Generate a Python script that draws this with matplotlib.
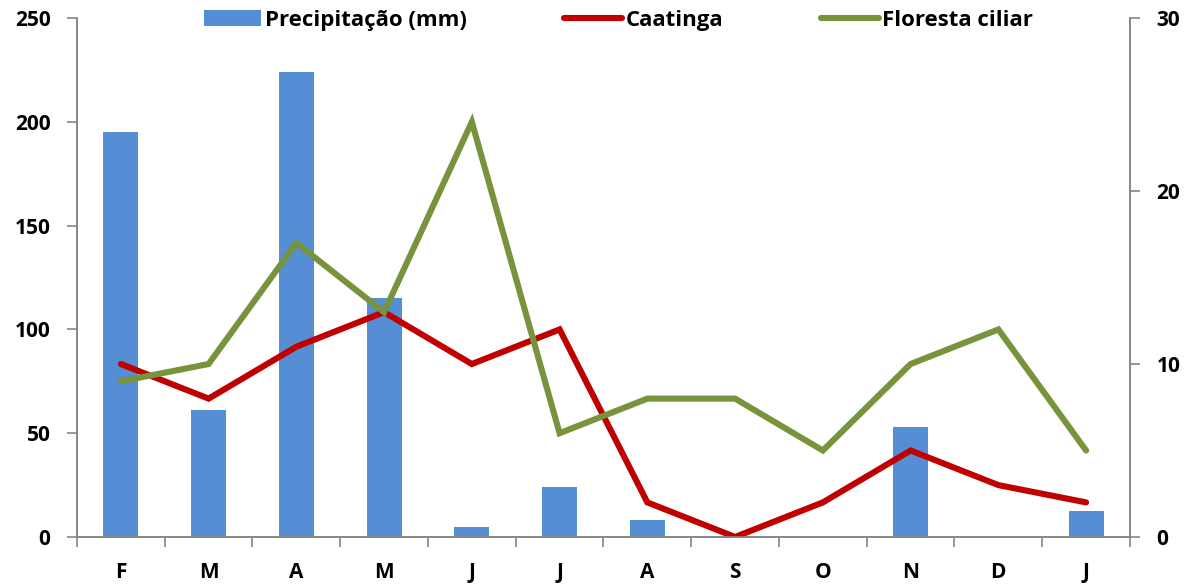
import matplotlib
matplotlib.use("Agg")
import matplotlib.pyplot as plt
import numpy as np

months = ["F", "M", "A", "M", "J", "J", "A", "S", "O", "N", "D", "J"]
precip = [195, 61, 224, 115, 5, 24, 8, 0, 0, 53, 0, 12.5]
caatinga = [10, 8, 11, 13, 10, 12, 2, 0, 2, 5, 3, 2]
floresta = [9, 10, 17, 13, 24, 6, 8, 8, 5, 10, 12, 5]

plt.rcParams['font.family'] = ['Open Sans', 'DejaVu Sans']
plt.rcParams['font.weight'] = 'bold'

fig = plt.figure(figsize=(11.95, 5.84), dpi=100)
ax = fig.add_axes([0.0644, 0.0805, 0.8812, 0.8885])
ax2 = ax.twinx()

x = np.arange(len(months))
b = ax.bar(x, precip, width=0.4, color="#558ED5", label="Precipitação (mm)", zorder=1)
l1, = ax2.plot(x, caatinga, color="#C00000", lw=4.4, label="Caatinga", solid_capstyle='round', solid_joinstyle='miter')
l2, = ax2.plot(x, floresta, color="#77933C", lw=4.4, label="Floresta ciliar", solid_capstyle='round', solid_joinstyle='miter')

ax.set_xlim(-0.5, 11.5)
ax.set_ylim(0, 250)
ax2.set_ylim(0, 30)
ax.set_yticks([0, 50, 100, 150, 200, 250])
ax2.set_yticks([0, 10, 20, 30])

ax.set_xticks(x)
ax.set_xticklabels(months)
ax.set_xticks(np.arange(-0.5, 12, 1), minor=True)
ax.tick_params(axis='x', which='major', length=0, pad=18, labelsize=15)
ax.tick_params(axis='x', which='minor', length=7, color="#868686", width=1.2)
ax.tick_params(axis='y', length=7, color="#868686", width=1.2, labelsize=15, pad=12)
ax2.tick_params(axis='y', length=7, color="#868686", width=1.2, labelsize=15, pad=12)

for a in (ax, ax2):
    a.spines['top'].set_visible(False)
    for s in ['left', 'right', 'bottom']:
        a.spines[s].set_color("#868686")
        a.spines[s].set_linewidth(1.2)
for lab in ax.get_xticklabels() + ax.get_yticklabels() + ax2.get_yticklabels():
    lab.set_fontweight('bold')

leg = ax2.legend([b, l1, l2], ["Precipitação (mm)", "Caatinga", "Floresta ciliar"],
                 loc='upper center', bbox_to_anchor=(0.514, 1.055), ncol=3, frameon=False,
                 handlelength=2.6, handletextpad=0.15, columnspacing=4.4,
                 prop={'weight': 'bold', 'size': 16})

fig.savefig("out.png", dpi=100)
